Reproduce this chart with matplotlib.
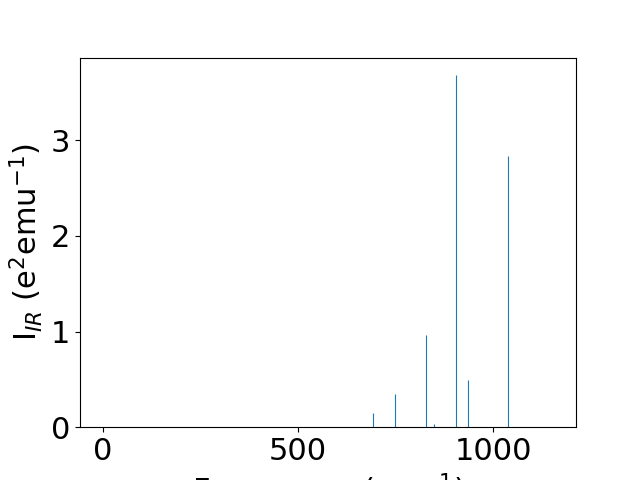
import numpy as np
import matplotlib.pyplot as plt

# vibrational modes (cm^-1) and IR intensities
freqs = [0, 693, 750, 829, 850, 905, 935, 1038, 1155]
intens = [0, 0.146, 0.345, 0.96, 0.03, 3.68, 0.49, 2.84, 0]
xticks = [0, 500, 1000]
yticks = [0, 1, 2, 3]

fig = plt.figure(figsize=(6.4, 4.8), dpi=100)
plt.vlines(freqs, 0, intens, colors='C0', linewidth=0.8)
plt.ylim(bottom=0)
plt.xlabel('Frequency (cm$^{-1}$)', fontsize=22)
plt.ylabel('I$_{IR}$ (e$^2$emu$^{-1}$)', fontsize=22)
plt.xticks(xticks, fontsize=22)
plt.yticks(yticks, fontsize=22)
plt.savefig('out.png')
